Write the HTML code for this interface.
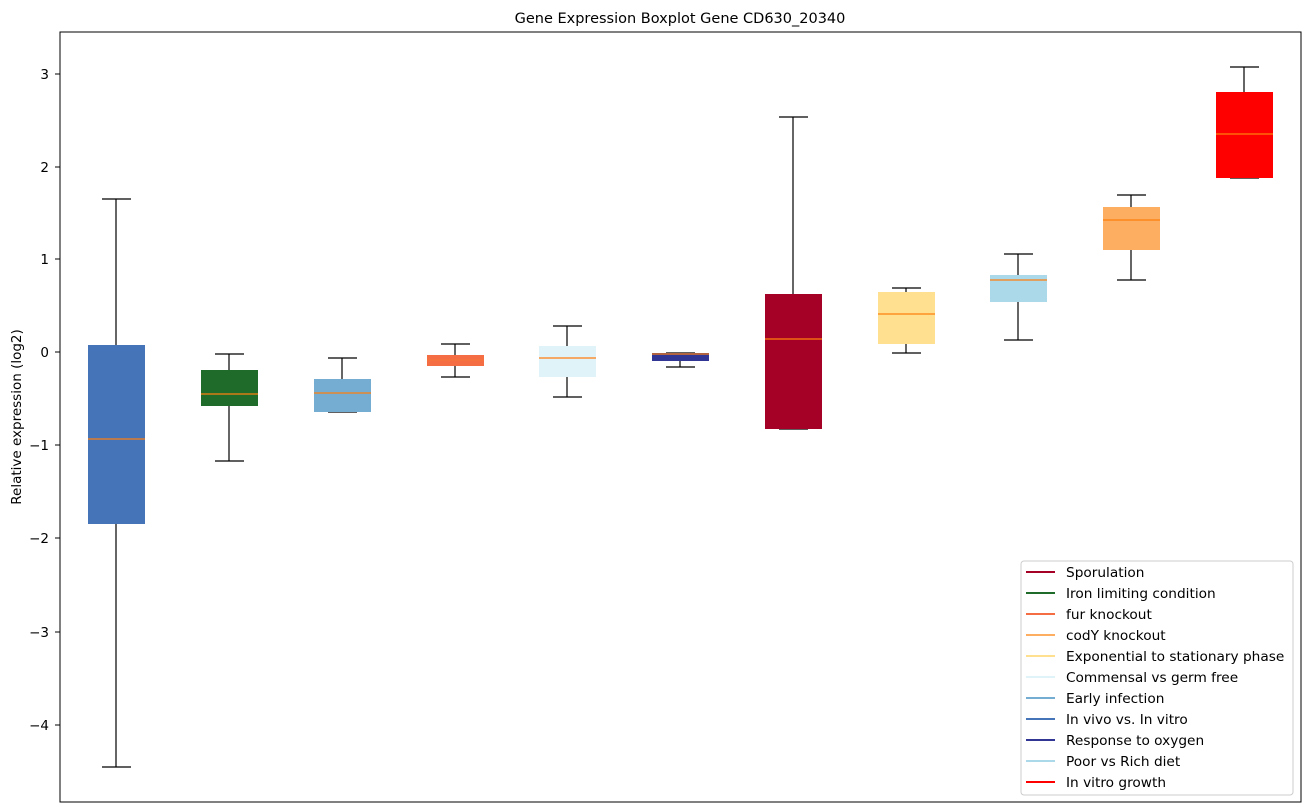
<!DOCTYPE html>
<html><head><meta charset="utf-8"><style>
html,body{margin:0;padding:0;background:#fff;}
svg{display:block;font-family:"DejaVu Sans","Liberation Sans",sans-serif;}
</style></head><body>
<svg width="1309" height="812" viewBox="0 0 1309 812" xmlns="http://www.w3.org/2000/svg">
<rect width="1309" height="812" fill="#fff"/>
<text x="680" y="23" font-size="14.5" text-anchor="middle" fill="#000">Gene Expression Boxplot Gene CD630_20340</text>
<g stroke="#000" stroke-width="1.2">
<line x1="116" y1="199" x2="116" y2="345"/><line x1="116" y1="524" x2="116" y2="767"/>
<line x1="102" y1="199" x2="131" y2="199"/><line x1="102" y1="767" x2="131" y2="767"/>
<line x1="229" y1="354" x2="229" y2="370"/><line x1="229" y1="406" x2="229" y2="461"/>
<line x1="215" y1="354" x2="244" y2="354"/><line x1="215" y1="461" x2="244" y2="461"/>
<line x1="342" y1="358" x2="342" y2="379"/><line x1="342" y1="412" x2="342" y2="412"/>
<line x1="328" y1="358" x2="357" y2="358"/><line x1="328" y1="412" x2="357" y2="412"/>
<line x1="455" y1="344" x2="455" y2="355"/><line x1="455" y1="366" x2="455" y2="377"/>
<line x1="441" y1="344" x2="470" y2="344"/><line x1="441" y1="377" x2="470" y2="377"/>
<line x1="567" y1="326" x2="567" y2="346"/><line x1="567" y1="377" x2="567" y2="397"/>
<line x1="553" y1="326" x2="582" y2="326"/><line x1="553" y1="397" x2="582" y2="397"/>
<line x1="680" y1="361" x2="680" y2="367"/>
<line x1="666" y1="353" x2="695" y2="353"/><line x1="666" y1="367" x2="695" y2="367"/>
<line x1="793" y1="117" x2="793" y2="294"/>
<line x1="779" y1="117" x2="808" y2="117"/><line x1="779" y1="429" x2="808" y2="429"/>
<line x1="906" y1="288" x2="906" y2="292"/><line x1="906" y1="344" x2="906" y2="353"/>
<line x1="892" y1="288" x2="921" y2="288"/><line x1="892" y1="353" x2="921" y2="353"/>
<line x1="1018" y1="254" x2="1018" y2="275"/><line x1="1018" y1="302" x2="1018" y2="340"/>
<line x1="1004" y1="254" x2="1033" y2="254"/><line x1="1004" y1="340" x2="1033" y2="340"/>
<line x1="1131" y1="195" x2="1131" y2="207"/><line x1="1131" y1="250" x2="1131" y2="280"/>
<line x1="1117" y1="195" x2="1146" y2="195"/><line x1="1117" y1="280" x2="1146" y2="280"/>
<line x1="1244" y1="67" x2="1244" y2="92"/>
<line x1="1230" y1="67" x2="1259" y2="67"/><line x1="1230" y1="178" x2="1259" y2="178"/>
</g>
<g>
<rect x="88" y="345" width="57" height="179" fill="#4575b8"/>
<rect x="201" y="370" width="57" height="36" fill="#1e6b2a"/>
<rect x="314" y="379" width="57" height="33" fill="#74add1"/>
<rect x="427" y="355" width="57" height="11" fill="#f46d43"/>
<rect x="539" y="346" width="57" height="31" fill="#e0f3f8"/>
<rect x="652" y="353" width="57" height="8" fill="#313695"/>
<rect x="765" y="294" width="57" height="135" fill="#a50026"/>
<rect x="878" y="292" width="57" height="52" fill="#fee090"/>
<rect x="990" y="275" width="57" height="27" fill="#abd9e9"/>
<rect x="1103" y="207" width="57" height="43" fill="#fdae61"/>
<rect x="1216" y="92" width="57" height="86" fill="#ff0000"/>
</g>
<g stroke="#ff7f0e" stroke-width="1.2">
<line x1="88" y1="439" x2="145" y2="439"/>
<line x1="201" y1="394" x2="258" y2="394"/>
<line x1="314" y1="393" x2="371" y2="393"/>
<line x1="427" y1="360" x2="484" y2="360" stroke="#f5743a"/>
<line x1="539" y1="358" x2="596" y2="358"/>
<line x1="652" y1="354" x2="709" y2="354"/>
<line x1="765" y1="339" x2="822" y2="339"/>
<line x1="878" y1="314" x2="935" y2="314"/>
<line x1="990" y1="280" x2="1047" y2="280"/>
<line x1="1103" y1="220" x2="1160" y2="220"/>
<line x1="1216" y1="134" x2="1273" y2="134"/>
</g>
<rect x="60" y="32" width="1241" height="770" fill="none" stroke="#000" stroke-width="1"/>
<g stroke="#000" stroke-width="1">
<line x1="55" y1="74" x2="60" y2="74"/><line x1="55" y1="167" x2="60" y2="167"/>
<line x1="55" y1="259" x2="60" y2="259"/><line x1="55" y1="352" x2="60" y2="352"/>
<line x1="55" y1="445" x2="60" y2="445"/><line x1="55" y1="538" x2="60" y2="538"/>
<line x1="55" y1="632" x2="60" y2="632"/><line x1="55" y1="725" x2="60" y2="725"/>
</g>
<g font-size="13.5" text-anchor="end" fill="#000">
<text x="49" y="79">3</text><text x="49" y="172">2</text><text x="49" y="264">1</text>
<text x="49" y="357">0</text><text x="49" y="450">−1</text><text x="49" y="543">−2</text>
<text x="49" y="637">−3</text><text x="49" y="730">−4</text>
</g>
<text transform="translate(21,417) rotate(-90)" font-size="13.5" text-anchor="middle">Relative expression (log2)</text>
<rect x="1021" y="561" width="272" height="234" rx="3" fill="#fff" fill-opacity="0.8" stroke="#ccc"/>
<g stroke-width="2">
<line x1="1026" y1="572" x2="1055" y2="572" stroke="#a50026"/>
<line x1="1026" y1="593" x2="1055" y2="593" stroke="#1e6b2a"/>
<line x1="1026" y1="614" x2="1055" y2="614" stroke="#f46d43"/>
<line x1="1026" y1="635" x2="1055" y2="635" stroke="#fdae61"/>
<line x1="1026" y1="656" x2="1055" y2="656" stroke="#fee090"/>
<line x1="1026" y1="677" x2="1055" y2="677" stroke="#e0f3f8"/>
<line x1="1026" y1="698" x2="1055" y2="698" stroke="#74add1"/>
<line x1="1026" y1="719" x2="1055" y2="719" stroke="#4575b8"/>
<line x1="1026" y1="740" x2="1055" y2="740" stroke="#313695"/>
<line x1="1026" y1="761" x2="1055" y2="761" stroke="#abd9e9"/>
<line x1="1026" y1="782" x2="1055" y2="782" stroke="#ff0000"/>
</g>
<g font-size="13.7" fill="#000">
<text x="1066" y="577">Sporulation</text>
<text x="1066" y="598">Iron limiting condition</text>
<text x="1066" y="619">fur knockout</text>
<text x="1066" y="640">codY knockout</text>
<text x="1066" y="661">Exponential to stationary phase</text>
<text x="1066" y="682">Commensal vs germ free</text>
<text x="1066" y="703">Early infection</text>
<text x="1066" y="724">In vivo vs. In vitro</text>
<text x="1066" y="745">Response to oxygen</text>
<text x="1066" y="766">Poor vs Rich diet</text>
<text x="1066" y="787">In vitro growth</text>
</g>
</svg>
</body></html>
